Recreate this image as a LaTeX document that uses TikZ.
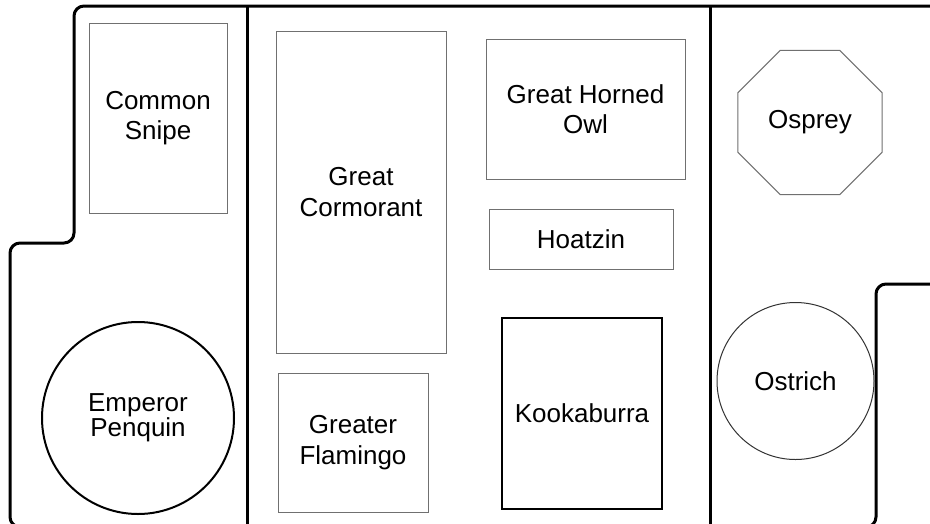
\documentclass[tikz,border=0pt]{standalone}
\usepackage{fontspec}
\setmainfont{Liberation Sans}
\usetikzlibrary{shapes.geometric}
\definecolor{boxgray}{HTML}{707070}
\definecolor{circgray}{HTML}{333333}
\tikzset{
  wall/.style={line width=3pt, black, rounded corners=10pt},
  divider/.style={line width=3pt, black},
  birdbox/.style={draw=boxgray, line width=1pt, rectangle, inner sep=0pt, align=center,
    font=\fontsize{26}{30.5}\selectfont},
  boldbox/.style={birdbox, draw=black, line width=1.6pt},
  birdcircle/.style={draw=circgray, line width=1pt, circle, inner sep=0pt, align=center,
    font=\fontsize{26}{30.5}\selectfont},
  boldcircle/.style={birdcircle, draw=black, line width=2pt, font=\fontsize{26}{25}\selectfont},
  birdoct/.style={draw=boxgray, line width=1pt, regular polygon, regular polygon sides=8,
    inner sep=0pt, align=center, font=\fontsize{26}{30.5}\selectfont}
}
\begin{document}
\begin{tikzpicture}[x=1pt,y=-1pt]
\useasboundingbox (0,0) rectangle (930,523);
\clip (0,0) rectangle (930,523);
\fill[white] (0,0) rectangle (930,523);
% outer walls
\coordinate (tr) at (945,6);
\coordinate (tl) at (74,6);
\coordinate (stepc) at (74,243);
\coordinate (stepl) at (10,243);
\coordinate (bl) at (10,527);
\coordinate (br) at (876,527);
\coordinate (rstep) at (876,284);
\coordinate (rr) at (945,284);
\draw[wall] (tr) -- (tl) -- (stepc) -- (stepl) -- (bl) -- (br) -- (rstep) -- (rr);
% dividers
\coordinate (d1t) at (247,6);
\coordinate (d1b) at (247,527);
\coordinate (d2t) at (710,6);
\coordinate (d2b) at (710,527);
\draw[divider] (d1t) -- (d1b);
\draw[divider] (d2t) -- (d2b);
% birds
\node[birdbox, minimum width=138pt, minimum height=190pt] (snipe) at (158,118) {Common\\Snipe};
\node[boldcircle, minimum size=192pt] (penguin) at (138,418) {Emperor\\Penquin};
\node[birdbox, minimum width=170pt, minimum height=322pt] (cormorant) at (361,192) {Great\\Cormorant};
\node[birdbox, minimum width=150pt, minimum height=139pt] (flamingo) at (353,442.5) {Greater\\Flamingo};
\node[birdbox, minimum width=199pt, minimum height=140pt] (owl) at (585.5,109) {Great Horned\\Owl};
\node[birdbox, minimum width=184pt, minimum height=60pt] (hoatzin) at (581,239) {Hoatzin};
\node[boldbox, minimum width=160pt, minimum height=191pt] (kookaburra) at (582,413.5) {Kookaburra};
\node[birdoct, minimum size=156pt] (osprey) at (810,122.5) {\raisebox{-2pt}{Osprey}};
\node[birdcircle, minimum size=157pt] (ostrich) at (795.5,381) {Ostrich};
\end{tikzpicture}
\end{document}
